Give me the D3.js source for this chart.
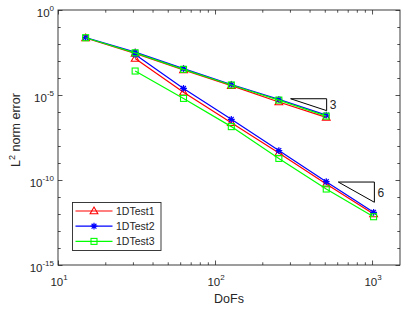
<!DOCTYPE html>
<html lang="en">
<head>
<meta charset="UTF-8">
<title>L2 norm error</title>
<script src="https://cdn.jsdelivr.net/npm/d3@7/dist/d3.min.js"></script>
<style>
    body { margin: 0; background: #fff; }
    text { font-family: "Liberation Sans", Arial, sans-serif; fill: #262626; }
</style>
</head>
<body>
<svg id="chart" width="413" height="309"></svg>
<script>
// data
var seriesNames = ["1DTest1", "1DTest2", "1DTest3"];
var dofsA = [15, 31, 63, 127, 255, 511];
var dofsB = [31, 63, 127, 255, 511, 1023];
var test1A = [2.24e-2, 2.82e-3, 3.02e-4, 3.55e-5, 3.89e-6, 4.79e-7];
var test1B = [1.41e-3, 1.45e-5, 2.34e-7, 3.89e-9, 5.75e-11, 1.0e-12];
var test2A = [2.40e-2, 3.31e-3, 3.55e-4, 4.17e-5, 5.50e-6, 6.61e-7];
var test2B = [2.40e-3, 2.45e-5, 3.72e-7, 5.37e-9, 7.94e-11, 1.26e-12];
var test3A = [2.34e-2, 3.02e-3, 3.24e-4, 3.89e-5, 5.01e-6, 5.75e-7];
var test3B = [2.57e-4, 6.31e-6, 1.38e-7, 1.86e-9, 2.95e-11, 6.92e-13];
// slope triangles: [x0, x1], [yTop, yBottom], label
var tri1X = [303, 514], tri1Y = [6.03e-6, 1.20e-6], tri1Label = "3";
var tri2X = [610, 1035], tri2Y = [7.59e-11, 4.90e-12], tri2Label = "6";
var xMajor = [10, 100, 1000];
var yMajor = [1, 1e-5, 1e-10, 1e-15];

var margin = { top: 10, right: 13, bottom: 44, left: 58 };
var width = 413 - margin.left - margin.right;
var height = 309 - margin.top - margin.bottom;

var svg = d3.select("#chart");
var g = svg.append("g").attr("transform", "translate(" + margin.left + "," + margin.top + ")");

var x = d3.scaleLog().domain([10, 1507]).range([0, width]);
var y = d3.scaleLog().domain([1e-15, 1]).range([height, 0]);

// minor ticks
var xMinor = [];
[10, 100, 1000].forEach(function (d) {
    for (var k = 2; k <= 9; k++) if (d * k <= 1507) xMinor.push(d * k);
});
var yMinor = d3.range(-14, 0).filter(function (e) { return e % 5 != 0; }).map(function (e) { return Math.pow(10, e); });

var tickColor = "#262626";
function ticks(axisFn, scale, values, len, tr) {
    var a = g.append("g").attr("transform", tr)
        .call(axisFn(scale).tickValues(values).tickSize(len).tickFormat(""));
    a.select(".domain").remove();
    a.selectAll("line").attr("stroke", tickColor).attr("stroke-width", 0.8);
}
ticks(d3.axisBottom, x, xMajor, -4.5, "translate(0," + height + ")");
ticks(d3.axisBottom, x, xMinor, -2.7, "translate(0," + height + ")");
ticks(d3.axisTop, x, xMajor, -4.5, "translate(0,0)");
ticks(d3.axisTop, x, xMinor, -2.7, "translate(0,0)");
ticks(d3.axisLeft, y, yMajor, -4.5, "translate(0,0)");
ticks(d3.axisLeft, y, yMinor, -2.7, "translate(0,0)");
ticks(d3.axisRight, y, yMajor, -4.5, "translate(" + width + ",0)");
ticks(d3.axisRight, y, yMinor, -2.7, "translate(" + width + ",0)");

// frame
g.append("rect").attr("width", width).attr("height", height)
    .attr("fill", "none").attr("stroke", tickColor).attr("stroke-width", 0.9);

// tick labels with superscripts
function powLabel(sel, exp) {
    sel.append("tspan").text("10");
    sel.append("tspan").attr("dy", -5.5).style("font-size", "8px").text(exp);
}
yMajor.forEach(function (v) {
    var t = g.append("text").attr("x", -4).attr("y", y(v) + 6.5)
        .attr("text-anchor", "end").style("font-size", "11.5px");
    powLabel(t, String(Math.round(Math.log10(v))));
});
xMajor.forEach(function (v) {
    var t = g.append("text").attr("x", x(v) + 1).attr("y", height + 20.5)
        .attr("text-anchor", "middle").style("font-size", "11.5px");
    powLabel(t, String(Math.round(Math.log10(v))));
});

// axis labels
g.append("text").attr("x", width / 2).attr("y", height + 38)
    .attr("text-anchor", "middle").style("font-size", "12.5px").text("DoFs");
var yl = g.append("text")
    .attr("transform", "translate(" + (20 - margin.left) + "," + 120 + ") rotate(-90)")
    .attr("text-anchor", "middle").style("font-size", "12.5px");
yl.append("tspan").text("L");
yl.append("tspan").attr("dy", -5.5).style("font-size", "9px").text("2");
yl.append("tspan").attr("dy", 5.5).text(" norm error");

// series
var series = [
    { name: seriesNames[0], color: "#ff0000", marker: "tri", parts: [[dofsA, test1A], [dofsB, test1B]] },
    { name: seriesNames[1], color: "#0000ff", marker: "star", parts: [[dofsA, test2A], [dofsB, test2B]] },
    { name: seriesNames[2], color: "#00ff00", marker: "sq", parts: [[dofsA, test3A], [dofsB, test3B]] }
];

var line = d3.line().x(function (d) { return x(d[0]); }).y(function (d) { return y(d[1]); });

function drawMarker(sel, type, color, px, py) {
    if (type == "tri") {
        sel.append("path").attr("d", d3.symbol().type(d3.symbolTriangle).size(26)())
            .attr("transform", "translate(" + px + "," + (py + 0.5) + ")")
            .attr("fill", "none").attr("stroke", color).attr("stroke-width", 1.1);
    } else if (type == "sq") {
        sel.append("rect").attr("x", px - 3).attr("y", py - 3).attr("width", 6).attr("height", 6)
            .attr("fill", "none").attr("stroke", color).attr("stroke-width", 1.1);
    } else {
        var r = 3.4, p = "";
        for (var k = 0; k < 4; k++) {
            var a = k * Math.PI / 4;
            p += "M" + (px - r * Math.cos(a)) + "," + (py - r * Math.sin(a)) +
                "L" + (px + r * Math.cos(a)) + "," + (py + r * Math.sin(a));
        }
        sel.append("path").attr("d", p).attr("stroke", color).attr("stroke-width", 1.2);
    }
}

series.forEach(function (s) {
    var sg = g.append("g");
    s.parts.forEach(function (part) {
        var pts = part[0].map(function (d, i) { return [d, part[1][i]]; });
        sg.append("path").attr("d", line(pts)).attr("fill", "none")
            .attr("stroke", s.color).attr("stroke-width", 1.2);
        pts.forEach(function (p) { drawMarker(sg, s.marker, s.color, x(p[0]), y(p[1])); });
    });
});

// slope triangles
function slopeTri(xs, ys, label) {
    var pts = [[xs[0], ys[0]], [xs[1], ys[0]], [xs[1], ys[1]], [xs[0], ys[0]]];
    g.append("path").attr("d", line(pts)).attr("fill", "none")
        .attr("stroke", "#000").attr("stroke-width", 1);
    g.append("text").attr("x", x(xs[1]) + 3).attr("y", y(Math.sqrt(ys[0] * ys[1])) + 4.5)
        .style("font-size", "12px").text(label);
}
slopeTri(tri1X, tri1Y, tri1Label);
slopeTri(tri2X, tri2Y, tri2Label);

// legend
var lg = g.append("g").attr("transform", "translate(" + (72.5 - margin.left) + "," + (202.5 - margin.top) + ")");
lg.append("rect").attr("width", 88.5).attr("height", 48)
    .attr("fill", "#fff").attr("stroke", tickColor).attr("stroke-width", 0.9);
series.forEach(function (s, i) {
    var ry = 8.5 + i * 15.2;
    lg.append("line").attr("x1", 3).attr("x2", 40).attr("y1", ry).attr("y2", ry)
        .attr("stroke", s.color).attr("stroke-width", 1.2);
    drawMarker(lg, s.marker, s.color, 21.5, ry);
    lg.append("text").attr("x", 43.5).attr("y", ry + 3.8).style("font-size", "10.5px").text(s.name);
});
</script>
</body>
</html>
